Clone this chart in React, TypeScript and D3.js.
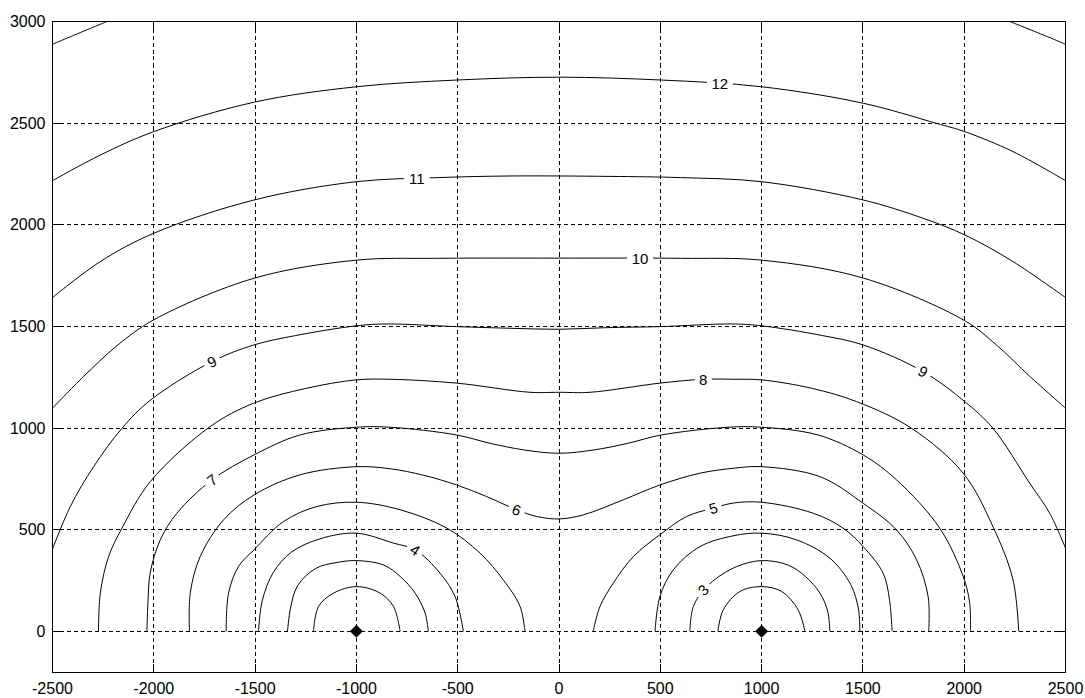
import React from "react";
import * as d3 from "d3";

const WIDTH = 1085;
const HEIGHT = 698;

// axis ticks
const xTicks = [-2500, -2000, -1500, -1000, -500, 0, 500, 1000, 1500, 2000, 2500];
const yTicks = [0, 500, 1000, 1500, 2000, 2500, 3000];

// the two sources
const sources = [
  [-1000, 0],
  [1000, 0],
];

// contour lines, [x, y] points
const level2Left = [[-1212, 0], [-1187, 122], [-1113, 188], [-998, 220], [-883, 188], [-817, 122], [-784, 0]];
const level2Right = [[784, 0], [811, 106], [893, 196], [1000, 220], [1099, 196], [1180, 106], [1214, 0]];

const level3Left = [[-1340, 0], [-1326, 110], [-1290, 225], [-1200, 310], [-1100, 338], [-1000, 348], [-867, 327], [-784, 270], [-710, 188], [-661, 90], [-645, 0]];
const level3Right = [[646, 0], [663, 122], [729, 220], [860, 311], [1000, 348], [1133, 325], [1216, 270], [1288, 188], [1326, 100], [1337, 0]];

const level4Left = [[-1483, 0], [-1465, 150], [-1410, 290], [-1320, 390], [-1180, 455], [-1000, 483], [-817, 434], [-710, 401], [-587, 286], [-513, 171], [-472, 0]];
const level4Right = [[474, 0], [498, 171], [564, 302], [696, 417], [860, 470], [1000, 483], [1173, 450], [1337, 360], [1440, 230], [1478, 110], [1485, 0]];

const level5Left = [[-1643, 0], [-1631, 188], [-1582, 319], [-1505, 401], [-1360, 540], [-1195, 614], [-1000, 635], [-784, 598], [-554, 508], [-390, 385], [-275, 253], [-192, 122], [-168, 0]];
const level5Right = [[169, 0], [202, 122], [268, 237], [367, 368], [498, 475], [630, 565], [761, 606], [860, 631], [1000, 635], [1255, 581], [1402, 508], [1501, 417], [1600, 286], [1632, 150], [1644, 0]];

const level6 = [[-1824, 0], [-1820, 188], [-1771, 368], [-1656, 548], [-1505, 671], [-1278, 770], [-1000, 810], [-834, 800], [-669, 768], [-505, 720], [-357, 663], [-209, 598], [-110, 565], [0, 553], [120, 573], [317, 647], [498, 720], [696, 778], [868, 803], [1000, 810], [1288, 761], [1501, 630], [1666, 499], [1765, 352], [1822, 171], [1825, 0]];

const level7 = [[-2034, 0], [-2029, 140], [-2018, 286], [-1968, 450], [-1886, 581], [-1713, 745], [-1505, 868], [-1278, 966], [-1000, 1004], [-834, 1004], [-505, 966], [-340, 925], [-170, 892], [0, 876], [170, 892], [340, 925], [505, 966], [834, 1004], [1000, 1004], [1278, 966], [1501, 868], [1666, 745], [1879, 508], [1995, 270], [2027, 140], [2031, 0]];

const level8 = [[-2273, 0], [-2264, 188], [-2223, 368], [-2157, 508], [-2017, 737], [-1722, 1007], [-1508, 1122], [-1250, 1195], [-1000, 1237], [-834, 1240], [-505, 1221], [-143, 1176], [0, 1176], [153, 1176], [498, 1221], [712, 1240], [868, 1240], [1000, 1237], [1250, 1195], [1469, 1130], [1740, 999], [1995, 778], [2142, 515], [2241, 253], [2269, 0]];

const level9 = [[-2500, 405], [-2412, 614], [-2297, 810], [-2157, 999], [-2017, 1137], [-1713, 1327], [-1505, 1409], [-1300, 1455], [-1000, 1503], [-850, 1512], [-505, 1499], [-242, 1491], [0, 1486], [235, 1494], [498, 1499], [850, 1512], [1000, 1503], [1300, 1455], [1501, 1409], [1797, 1278], [2003, 1130], [2142, 999], [2323, 729], [2422, 581], [2500, 410]];

const level10 = [[-2500, 1098], [-2347, 1253], [-2182, 1405], [-2001, 1532], [-1505, 1737], [-1000, 1826], [-600, 1835], [0, 1836], [600, 1835], [1000, 1826], [1505, 1737], [2003, 1528], [2159, 1409], [2323, 1255], [2500, 1098]];

const level11 = [[-2500, 1642], [-2264, 1819], [-2001, 1958], [-1505, 2122], [-1000, 2212], [-600, 2232], [-242, 2240], [252, 2238], [600, 2232], [1000, 2212], [1501, 2122], [1797, 2032], [2003, 1950], [2241, 1819], [2500, 1642]];

const level12 = [[-2500, 2217], [-2264, 2343], [-2001, 2458], [-1505, 2603], [-1000, 2679], [-505, 2712], [0, 2726], [505, 2712], [1000, 2679], [1501, 2598], [1863, 2499], [2003, 2458], [2241, 2360], [2500, 2217]];

const level13Left = [[-2500, 2888], [-2412, 2925], [-2231, 3000]];
const level13Right = [[2225, 3000], [2412, 2925], [2500, 2888]];

const contourLines = [
  level2Left, level2Right, level3Left, level3Right, level4Left, level4Right,
  level5Left, level5Right, level6, level7, level8, level9, level10, level11,
  level12, level13Left, level13Right,
];

// inline labels: text, position on the line, rotation in degrees
const labelTexts = ["12", "11", "10", "9", "9", "8", "7", "6", "5", "4", "3"];
const labelX = [794, -702, 400, -1713, 1797, 712, -1713, -209, 761, -710, 712];
const labelY = [2696, 2229, 1835, 1327, 1278, 1240, 745, 598, 606, 401, 204];
const labelAngle = [0, 0, 0, -28, 29, 0, -37, 20, -16, 33, -44];

const App = () => {
  const margin = { left: 52.5, right: 19.5, top: 21.5, bottom: 26 };
  const plotRight = WIDTH - margin.right;
  const plotBottom = HEIGHT - margin.bottom;

  const xScale = d3.scaleLinear().domain([-2500, 2500]).range([margin.left, plotRight]);
  const yScale = d3.scaleLinear().domain([-200, 3000]).range([plotBottom, margin.top]);

  const crisp = (v: number) => Math.round(v - 0.5) + 0.5;

  const line = d3
    .line<number[]>()
    .x((d) => xScale(d[0]))
    .y((d) => yScale(d[1]))
    .curve(d3.curveCatmullRom.alpha(0.5));

  const font = "'Liberation Sans', Arial, sans-serif";
  const tickLen = 8;

  return (
    <svg
      width={WIDTH}
      height={HEIGHT}
      style={{ position: "absolute", left: 0, top: 0, background: "#fff" }}
    >
      <defs>
        <clipPath id="plot-clip">
          <rect
            x={margin.left}
            y={margin.top}
            width={plotRight - margin.left}
            height={plotBottom - margin.top}
          />
        </clipPath>
      </defs>

      {/* dashed grid */}
      <g stroke="#000" strokeWidth={1} strokeDasharray="4,3" shapeRendering="crispEdges">
        {xTicks.slice(1, -1).map((t) => (
          <line key={`gx${t}`} x1={crisp(xScale(t))} x2={crisp(xScale(t))} y1={margin.top} y2={plotBottom} />
        ))}
        {yTicks.slice(0, -1).map((t) => (
          <line key={`gy${t}`} x1={margin.left} x2={plotRight} y1={crisp(yScale(t))} y2={crisp(yScale(t))} />
        ))}
      </g>

      {/* contours */}
      <g clipPath="url(#plot-clip)" fill="none" stroke="#000" strokeWidth={1}>
        {contourLines.map((pts, i) => (
          <path key={i} d={line(pts) || ""} />
        ))}
      </g>

      {/* contour labels */}
      {labelTexts.map((t, i) => {
        const cx = xScale(labelX[i]);
        const cy = yScale(labelY[i]);
        const w = t.length * 9 + 8;
        return (
          <g key={`lab${i}`} transform={`translate(${cx},${cy}) rotate(${labelAngle[i]})`}>
            <rect x={-w / 2} y={-7} width={w} height={14} fill="#fff" />
            <text
              textAnchor="middle"
              dominantBaseline="central"
              fontFamily={font}
              fontSize={15}
              fill="#000"
            >
              {t}
            </text>
          </g>
        );
      })}

      {/* source markers */}
      {sources.map((s, i) => {
        const cx = xScale(s[0]);
        const cy = yScale(s[1]);
        return (
          <path
            key={`src${i}`}
            d={`M${cx},${cy - 6.5}L${cx + 6.5},${cy}L${cx},${cy + 6.5}L${cx - 6.5},${cy}Z`}
            fill="#000"
          />
        );
      })}

      {/* axes box and tick marks */}
      <g stroke="#000" strokeWidth={1} shapeRendering="crispEdges" fill="none">
        <rect
          x={margin.left}
          y={margin.top}
          width={plotRight - margin.left}
          height={plotBottom - margin.top}
        />
        {xTicks.map((t) => (
          <g key={`tx${t}`}>
            <line x1={crisp(xScale(t))} x2={crisp(xScale(t))} y1={plotBottom} y2={plotBottom - tickLen} />
            <line x1={crisp(xScale(t))} x2={crisp(xScale(t))} y1={margin.top} y2={margin.top + tickLen} />
          </g>
        ))}
        {yTicks.map((t) => (
          <g key={`ty${t}`}>
            <line x1={margin.left} x2={margin.left + tickLen} y1={crisp(yScale(t))} y2={crisp(yScale(t))} />
            <line x1={plotRight} x2={plotRight - tickLen} y1={crisp(yScale(t))} y2={crisp(yScale(t))} />
          </g>
        ))}
      </g>

      {/* tick labels */}
      <g fontFamily={font} fontSize={16} fill="#000">
        {xTicks.map((t) => (
          <text key={`lx${t}`} x={xScale(t)} y={plotBottom + 16} textAnchor="middle" dominantBaseline="central">
            {t}
          </text>
        ))}
        {yTicks.map((t) => (
          <text key={`ly${t}`} x={margin.left - 7} y={yScale(t)} textAnchor="end" dominantBaseline="central">
            {t}
          </text>
        ))}
      </g>
    </svg>
  );
};

export default App;
